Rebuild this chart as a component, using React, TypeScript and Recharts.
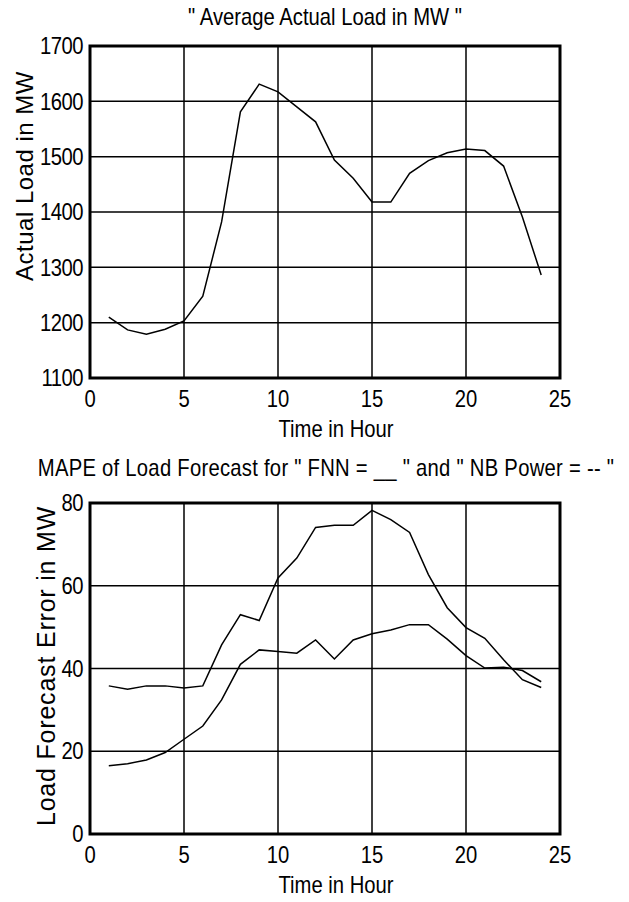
import React from 'react';
import { LineChart, Line, XAxis, YAxis, CartesianGrid, ReferenceArea, Label } from 'recharts';

const hours = [1, 2, 3, 4, 5, 6, 7, 8, 9, 10, 11, 12, 13, 14, 15, 16, 17, 18, 19, 20, 21, 22, 23, 24];
const avgLoad = [1210, 1187, 1179, 1188, 1203, 1248, 1382, 1581, 1631, 1617, 1590, 1563, 1494, 1461, 1418, 1418, 1470, 1493, 1507, 1514, 1511, 1483, 1391, 1286];
const nbPowerError = [35.8, 35.0, 35.8, 35.8, 35.3, 35.8, 45.7, 53.0, 51.6, 61.9, 66.7, 74.1, 74.6, 74.6, 78.2, 76.0, 72.9, 62.7, 54.7, 49.9, 47.3, 42.1, 37.3, 35.4];
const fnnError = [16.5, 17.0, 17.9, 19.7, 22.9, 26.1, 32.4, 41.0, 44.5, 44.1, 43.7, 46.9, 42.3, 46.9, 48.4, 49.3, 50.6, 50.6, 47.1, 43.1, 40.1, 40.3, 39.5, 36.8];

const xTicks = [0, 5, 10, 15, 20, 25];
const loadTicks = [1100, 1200, 1300, 1400, 1500, 1600, 1700];
const errorTicks = [0, 20, 40, 60, 80];

const topTitle = '" Average Actual Load in MW "';
const bottomTitle = 'MAPE of Load Forecast for " FNN = __ " and " NB Power = -- "';

const loadData = hours.map((h, i) => ({ hour: h, load: avgLoad[i] }));
const errorData = hours.map((h, i) => ({ hour: h, nb: nbPowerError[i], fnn: fnnError[i] }));

const FONT = '"Liberation Sans", Arial, Helvetica, sans-serif';
const FS = 23;
const SX = 0.88; // the source figure is squeezed sideways

// horizontal text, narrowed around its anchor point
function SText({ x, y, anchor = 'middle', dy = 0, spacing = 0, children }: any) {
  return (
    <text
      transform={`translate(${x} ${y}) scale(${SX} 1)`}
      x={0}
      y={0}
      dy={dy}
      textAnchor={anchor}
      fontSize={FS}
      fontFamily={FONT}
      letterSpacing={spacing}
      fill="#000"
    >
      {children}
    </text>
  );
}

const XTick = (props: any) => (
  <SText x={props.x} y={props.y} dy={FS * 0.71}>{props.payload.value}</SText>
);

const YTick = (props: any) => (
  <SText x={props.x} y={props.y} anchor="end" dy={FS * 0.355} spacing={-0.6}>{props.payload.value}</SText>
);

const xLabel = (props: any) => {
  const vb = props.viewBox;
  return <SText x={vb.x + vb.width / 2 + 11} y={vb.y + 59}>Time in Hour</SText>;
};

const yLabel = (text: string, bx: number, dy: number, size: number, spacing: number) => (props: any) => {
  const vb = props.viewBox;
  const x = vb.x + bx;
  const y = vb.y + vb.height / 2 + dy;
  return (
    <text x={x} y={y} transform={`rotate(-90 ${x} ${y})`} textAnchor="middle" fontSize={size} fontFamily={FONT} letterSpacing={spacing} fill="#000">
      {text}
    </text>
  );
};

export default function App() {
  return (
    <div style={{ position: 'absolute', left: 0, top: 0, width: 629, height: 902, background: '#fff' }}>
      <LineChart width={629} height={450} data={loadData} margin={{ top: 46, right: 69, bottom: 0, left: 0 }}>
        <SText x={325} y={25}>{topTitle}</SText>
        <CartesianGrid stroke="#000" strokeWidth={1.5} />
        <XAxis dataKey="hour" type="number" domain={[0, 25]} ticks={xTicks} height={72} axisLine={false} tickLine={false} tickSize={0} tickMargin={13} tick={XTick} interval={0}>
          <Label content={xLabel} />
        </XAxis>
        <YAxis type="number" domain={[1100, 1700]} ticks={loadTicks} width={90} axisLine={false} tickLine={false} tickSize={0} tickMargin={7} tick={YTick} interval={0}>
          <Label content={yLabel('Actual Load in MW', 33, -36, 24, 0.5)} />
        </YAxis>
        <ReferenceArea x1={0} x2={25} y1={1100} y2={1700} fill="none" stroke="#000" strokeWidth={3} />
        <Line type="linear" dataKey="load" stroke="#000" strokeWidth={1.5} dot={false} isAnimationActive={false} />
      </LineChart>
      <LineChart width={629} height={452} data={errorData} margin={{ top: 53, right: 69, bottom: 0, left: 0 }}>
        <SText x={326} y={26} spacing={0.3}>{bottomTitle}</SText>
        <CartesianGrid stroke="#000" strokeWidth={1.5} />
        <XAxis dataKey="hour" type="number" domain={[0, 25]} ticks={xTicks} height={68} axisLine={false} tickLine={false} tickSize={0} tickMargin={13} tick={XTick} interval={0}>
          <Label content={xLabel} />
        </XAxis>
        <YAxis type="number" domain={[0, 80]} ticks={errorTicks} width={90} axisLine={false} tickLine={false} tickSize={0} tickMargin={7} tick={YTick} interval={0}>
          <Label content={yLabel('Load Forecast Error in MW', 55, -2.5, 25, 0.8)} />
        </YAxis>
        <ReferenceArea x1={0} x2={25} y1={0} y2={80} fill="none" stroke="#000" strokeWidth={3} />
        <Line type="linear" dataKey="nb" stroke="#000" strokeWidth={1.5} dot={false} isAnimationActive={false} />
        <Line type="linear" dataKey="fnn" stroke="#000" strokeWidth={1.5} dot={false} isAnimationActive={false} />
      </LineChart>
    </div>
  );
}
